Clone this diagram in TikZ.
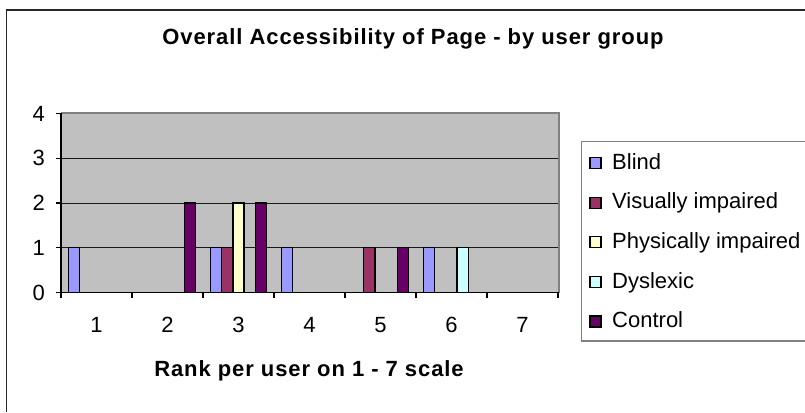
\documentclass[tikz,border=0pt]{standalone}
\usepackage{fontspec}
\setmainfont{Liberation Sans}
\newfontfamily\headfont{Liberation Sans}[LetterSpace=4.2]

\definecolor{plotbg}{HTML}{C0C0C0}
\definecolor{plotedge}{HTML}{808080}
\definecolor{blind}{HTML}{9999FF}
\definecolor{visimp}{HTML}{993366}
\definecolor{physimp}{HTML}{FFFFCC}
\definecolor{dyslexic}{HTML}{CCFFFF}
\definecolor{control}{HTML}{660066}

\tikzset{
  labelfont/.style={font=\fontsize{22}{26}\selectfont, inner sep=0pt},
  headtext/.style={font=\headfont\bfseries\fontsize{22}{26}\selectfont, inner sep=0pt},
  barbox/.style={draw=black, line width=1.3pt},
  keybox/.style={draw=black, line width=1.2pt, minimum size=11pt, inner sep=0pt},
  gridline/.style={draw=black!90, line width=1pt},
  axisline/.style={draw=black, line width=1.1pt},
}

\begin{document}
\begin{tikzpicture}[x=1pt, y=-1pt]
  \useasboundingbox (0,0) rectangle (805,412);

  % chart frame (continues past the right and bottom edges)
  \draw[black!85, line width=1.7pt] (6.5,412) -- (6.5,10) -- (805,10);

  % title
  \node[headtext, anchor=base] (title) at (413,45) {Overall Accessibility of Page - by user group};

  % plot area
  \fill[plotbg] (61,113) rectangle (559,292.5);
  \foreach \k in {1,2,3}
    \draw[gridline] (61,{292.5-44.75*\k}) -- (559,{292.5-44.75*\k});
  \draw[plotedge, line width=1.6pt] (61,113) -- (559,113) -- (559,292.5);

  % bars: category / series index / value / colour
  \foreach \c/\s/\v/\col in {1/0/1/blind, 2/4/2/control,
      3/0/1/blind, 3/1/1/visimp, 3/2/2/physimp, 3/4/2/control,
      4/0/1/blind, 5/1/1/visimp, 5/4/1/control,
      6/0/1/blind, 6/3/1/dyslexic}
    \draw[barbox, fill=\col] ({61+71*(\c-1)+7.32+11.27*\s},292.5)
      rectangle ++(11.27,{-44.75*\v});

  % axes with tick marks
  \draw[axisline] (61,113) -- (61,292.5) -- (559,292.5);
  \foreach \k in {0,...,4}
    \draw[axisline] (55.5,{292.5-44.75*\k}) -- (61,{292.5-44.75*\k});
  \foreach \k in {0,...,7}
    \draw[axisline] ({61+71*\k},292.5) -- ({61+71*\k},297.5);

  % value labels
  \foreach \k in {0,...,4}
    \node[labelfont, anchor=base east] (ylab\k) at (45,{300.1-44.75*\k}) {\k};
  % category labels
  \foreach \k in {1,...,7}
    \node[labelfont, anchor=base] (xlab\k) at ({61+71*(\k-0.5)},332.7) {\k};

  % axis title
  \node[headtext, anchor=base] (xtitle) at (309,376) {Rank per user on 1 - 7 scale};

  % legend
  \draw[plotedge, line width=1.2pt] (812,141.7) -- (581.7,141.7) -- (581.7,341) -- (812,341);
  \foreach \i/\col/\txt in {0/blind/Blind, 1/visimp/Visually impaired,
      2/physimp/Physically impaired, 3/dyslexic/Dyslexic, 4/control/Control} {
    \node[keybox, fill=\col] (key\i) at (595.5,{163+39.6*\i}) {};
    \node[labelfont, anchor=base west] (entry\i) at (612,{169.3+39.6*\i}) {\txt};
  }
\end{tikzpicture}
\end{document}
